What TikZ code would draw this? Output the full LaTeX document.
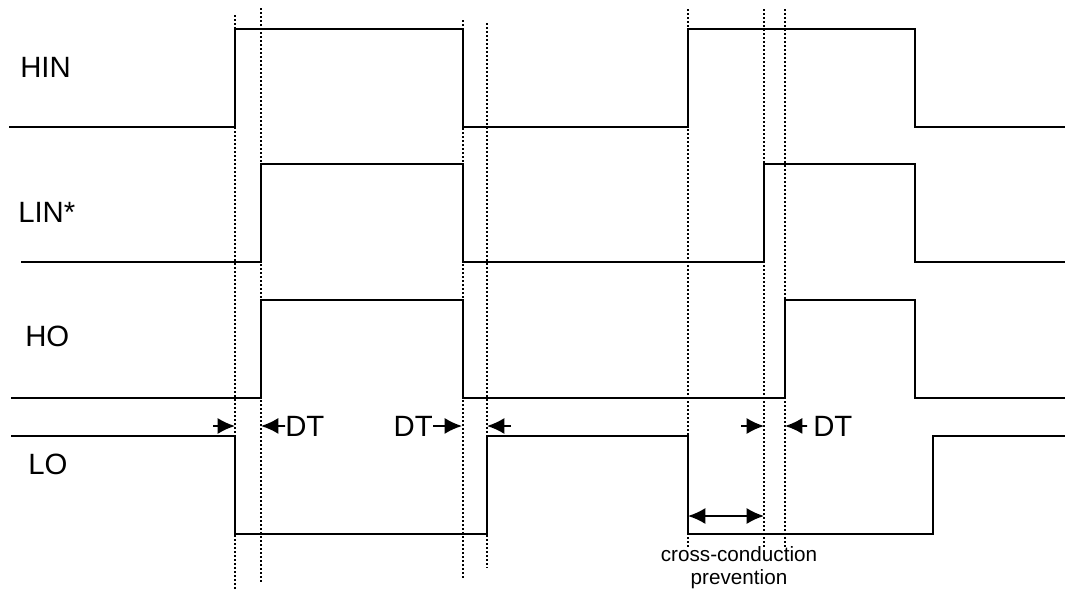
\documentclass[tikz,border=0pt]{standalone}
\usepackage{fontspec}
\setmainfont{Liberation Sans}
\usetikzlibrary{arrows.meta}

\begin{document}
\begin{tikzpicture}[x=0.75pt, y=-0.75pt,
  wave/.style={line width=1.5pt},
  guide/.style={line width=1.3pt, dash pattern=on 1.5pt off 1.5pt},
  dtarrow/.style={line width=1.3pt, -{Latex[length=13pt, width=12pt]}},
  lbl/.style={font=\fontsize{22}{26}\selectfont, inner sep=0pt}]
\useasboundingbox (0,0) rectangle (1065,594);

% Dotted guide lines at the switching instants
\draw[guide] (235,15) -- (235,590);
\draw[guide] (261,8) -- (261,582);
\draw[guide] (463,20) -- (463,580);
\draw[guide] (487,23) -- (487,568);
\draw[guide] (688,9) -- (688,548);
\draw[guide] (764,9) -- (764,548);
\draw[guide] (785,9) -- (785,548);

% HIN
\draw[wave] (9,127) -- (235,127) -- (235,29) -- (463,29) -- (463,127) -- (688,127)
  -- (688,29) -- (915,29) -- (915,127) -- (1065,127);
% LIN*
\draw[wave] (21,262) -- (261,262) -- (261,164) -- (463,164) -- (463,262) -- (764,262)
  -- (764,164) -- (915,164) -- (915,262) -- (1065,262);
% HO
\draw[wave] (11,398) -- (261,398) -- (261,300) -- (463,300) -- (463,398) -- (785,398)
  -- (785,300) -- (915,300) -- (915,398) -- (1065,398);
% LO
\draw[wave] (11,436) -- (235,436) -- (235,534) -- (487,534) -- (487,436) -- (688,436)
  -- (688,534) -- (933,534) -- (933,436) -- (1065,436);

% Signal names
\node[lbl, anchor=base west] (hin) at (20,77) {HIN};
\node[lbl, anchor=base west] (lin) at (18,222) {LIN*};
\node[lbl, anchor=base west] (ho) at (25,346) {HO};
\node[lbl, anchor=base west] (lo) at (28,474) {LO};

% Dead time markers
\coordinate (l1) at (213,426);
\coordinate (r1) at (235,426);
\coordinate (r2) at (261,426);
\node[lbl, anchor=base west] (dt1) at (285,436) {DT};
\draw[dtarrow] (l1) -- (r1);
\draw[dtarrow] (dt1.west) -- (r2);

\coordinate (r3) at (462,426);
\coordinate (l4) at (511,426);
\coordinate (r4) at (487,426);
\node[lbl, anchor=base east] (dt2) at (433,436) {DT};
\draw[dtarrow] (dt2.east) -- (r3);
\draw[dtarrow] (l4) -- (r4);

\coordinate (l5) at (741,426);
\coordinate (r5) at (764,426);
\coordinate (r6) at (785,426);
\node[lbl, anchor=base west] (dt3) at (813,436) {DT};
\draw[dtarrow] (l5) -- (r5);
\draw[dtarrow] ([xshift=-4.5pt]dt3.west) -- (r6);

% Cross-conduction prevention interval
\coordinate (cc1) at (688,516);
\coordinate (cc2) at (764,516);
\draw[line width=1.3pt, {Latex[length=13pt, width=12pt]}-{Latex[length=13pt, width=12pt]}] (cc1) -- (cc2);
\node[font=\fontsize{15.5}{17.25}\selectfont, align=center, inner sep=0pt] (cc) at (739,568) {cross-conduction\\prevention};

\end{tikzpicture}
\end{document}
